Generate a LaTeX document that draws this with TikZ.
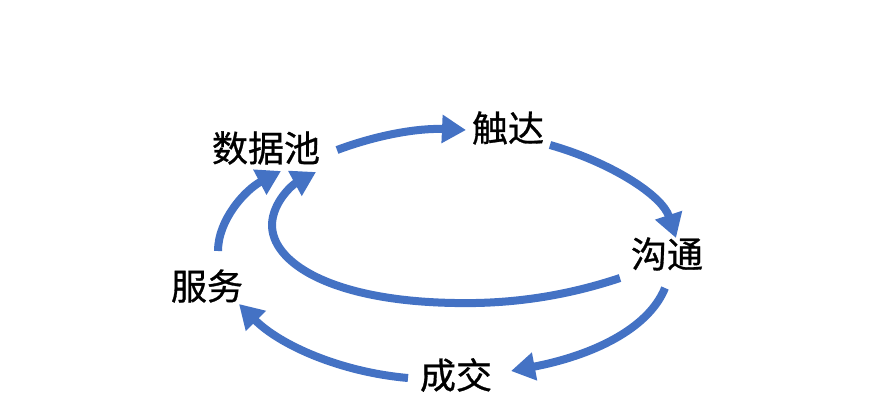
\documentclass[tikz,border=0pt]{standalone}
\usepackage{fontspec}
\newfontfamily\cjk[FakeBold=0.8]{Noto Sans CJK SC}
\usetikzlibrary{arrows.meta}
\definecolor{arrowblue}{HTML}{4472C4}
\tikzset{
  lbl/.style={font=\cjk\fontsize{36}{36}\selectfont, text=black, inner sep=0pt},
  flow/.style={draw=arrowblue, line width=8pt, -{Triangle[length=24pt,width=27pt]}}
}
\begin{document}
\begin{tikzpicture}[x=1pt,y=-1pt]
\useasboundingbox (0,0) rectangle (895,400);
\node[lbl] (sjc) at (266,148) {数据池};
\node[lbl] (cd) at (508,128) {触达};
\node[lbl] (gt) at (667,254) {沟通};
\node[lbl] (cj) at (456,375) {成交};
\node[lbl] (fw) at (207,286) {服务};
% connector end points
\coordinate (a1s) at (337,150); \coordinate (a1e) at (466,130);
\coordinate (a2s) at (550,145); \coordinate (a2e) at (676,238);
\coordinate (a3s) at (665,288); \coordinate (a3e) at (511,371);
\coordinate (a4s) at (408,378); \coordinate (a4e) at (239,304);
\coordinate (a5s) at (218,251); \coordinate (a5e) at (281,171);
\coordinate (a6s) at (620,278); \coordinate (a6e) at (316,172);
\draw[flow] (a1s) .. controls (380,134) and (420,128) .. (a1e);
\draw[flow] (a2s) .. controls (610,162) and (662,195) .. (a2e);
\draw[flow] (a3s) .. controls (648,330) and (590,356) .. (a3e);
\draw[flow] (a4s) .. controls (340,372) and (280,345) .. (a4e);
\draw[flow] (a5s) .. controls (218,220) and (245,190) .. (a5e);
\draw[flow] (a6s) .. controls (560,298) and (505,304) .. (455,303)
  .. controls (330,301) and (271,262) .. (272,224)
  .. controls (273,202) and (292,185) .. (a6e);
\end{tikzpicture}
\end{document}
